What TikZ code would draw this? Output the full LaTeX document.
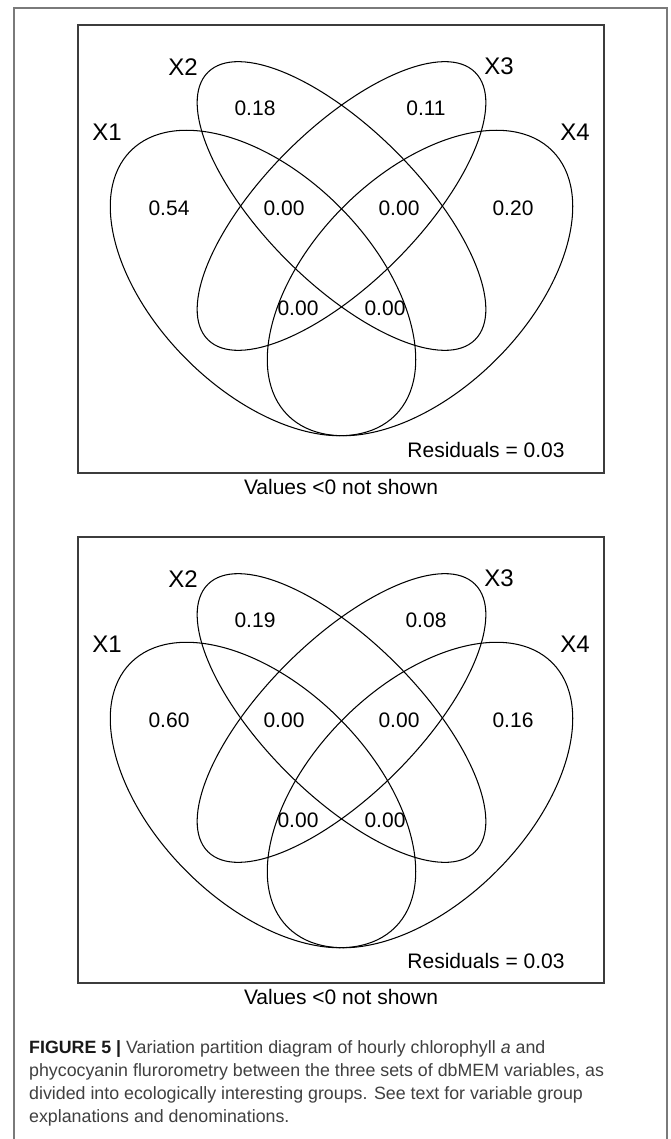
\documentclass[tikz,border=0pt]{standalone}
\usepackage{fontspec}
\setmainfont{Liberation Sans}
\definecolor{captxt}{HTML}{404040}
\definecolor{framegray}{HTML}{3C3C3C}
\definecolor{outergray}{HTML}{7A7A7A}
\begin{document}
\begin{tikzpicture}[x=1pt,y=-1pt,
  lab/.style={font=\fontsize{21}{21}\selectfont, inner sep=0pt, anchor=center, text=black},
  setlab/.style={font=\fontsize{24}{24}\selectfont, inner sep=0pt, anchor=center, text=black},
  venn/.style={draw=black, line width=1.05pt},
  panelframe/.style={draw=framegray, line width=1.7pt},
  captline/.style={font=\fontsize{17.8}{20}\selectfont, inner sep=0pt, anchor=base west, text=captxt},
]
\useasboundingbox[fill=white] (0,0) rectangle (670,1139);
\draw[draw=outergray, line width=1.3pt] (14,1139) -- (14,8) -- (667,8) -- (667,1139);

% ---------- panel 1 ----------
\node[panelframe, draw, minimum width=526pt, minimum height=448pt, inner sep=0pt] (frameA) at (341,249) {};
\coordinate (a1) at (263,283);
\coordinate (a4) at (420,283);
\coordinate (a23) at (341.5,206);
\draw[venn, rotate around={-45:(a1)}] (a1) ellipse [x radius=187pt, y radius=108pt];
\draw[venn, rotate around={45:(a4)}] (a4) ellipse [x radius=187pt, y radius=108pt];
\draw[venn, rotate around={-45:(a23)}] (a23) ellipse [x radius=189pt, y radius=77pt];
\draw[venn, rotate around={45:(a23)}] (a23) ellipse [x radius=189pt, y radius=77pt];
\node[setlab] (aX1) at (107,132) {X1};
\node[setlab] (aX2) at (183,67) {X2};
\node[setlab] (aX3) at (499,66) {X3};
\node[setlab] (aX4) at (575,132) {X4};
\node[lab] (ap2) at (255,108) {0.18};
\node[lab] (ap3) at (426,108) {0.11};
\node[lab] (ap1) at (169,208) {0.54};
\node[lab] (ap12) at (284,208) {0.00};
\node[lab] (ap34) at (399,208) {0.00};
\node[lab] (ap4) at (513,208) {0.20};
\node[lab] (ap13) at (298,308) {0.00};
\node[lab] (ap24) at (385,308) {0.00};
\node[lab] (ares) at (486,450) {Residuals = 0.03};
\node[lab] (anote) at (341,487) {Values <0 not shown};

% ---------- panel 2 ----------
\node[panelframe, draw, minimum width=526pt, minimum height=446pt, inner sep=0pt] (frameB) at (341,760) {};
\coordinate (b1) at (263,795);
\coordinate (b4) at (420,795);
\coordinate (b23) at (341.5,718);
\draw[venn, rotate around={-45:(b1)}] (b1) ellipse [x radius=187pt, y radius=108pt];
\draw[venn, rotate around={45:(b4)}] (b4) ellipse [x radius=187pt, y radius=108pt];
\draw[venn, rotate around={-45:(b23)}] (b23) ellipse [x radius=189pt, y radius=77pt];
\draw[venn, rotate around={45:(b23)}] (b23) ellipse [x radius=189pt, y radius=77pt];
\node[setlab] (bX1) at (107,644) {X1};
\node[setlab] (bX2) at (183,579) {X2};
\node[setlab] (bX3) at (499,578) {X3};
\node[setlab] (bX4) at (575,644) {X4};
\node[lab] (bp2) at (255,620) {0.19};
\node[lab] (bp3) at (426,620) {0.08};
\node[lab] (bp1) at (169,720) {0.60};
\node[lab] (bp12) at (284,720) {0.00};
\node[lab] (bp34) at (399,720) {0.00};
\node[lab] (bp4) at (513,720) {0.16};
\node[lab] (bp13) at (298,820) {0.00};
\node[lab] (bp24) at (385,820) {0.00};
\node[lab] (bres) at (486,961) {Residuals = 0.03};
\node[lab] (bnote) at (341,997) {Values <0 not shown};

% ---------- caption ----------
\node[captline] (cap1) at (29,1053) {\textcolor{black!90}{\textbf{FIGURE 5 |}} Variation partition diagram of hourly chlorophyll \textit{a} and};
\node[captline] (cap2) at (29,1076) {phycocyanin flurorometry between the three sets of dbMEM variables, as};
\node[captline] (cap3) at (29,1099) {divided into ecologically interesting groups. See text for variable group};
\node[captline] (cap4) at (29,1122) {explanations and denominations.};
\end{tikzpicture}
\end{document}
